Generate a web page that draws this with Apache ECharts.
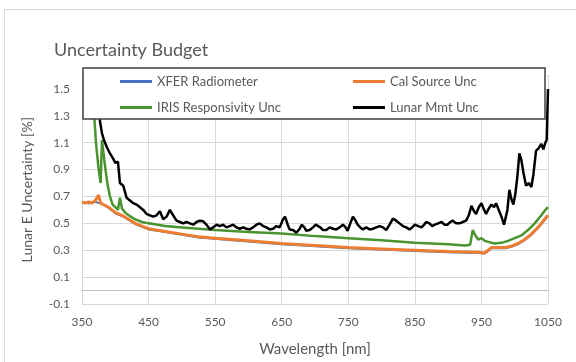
<!DOCTYPE html>
<html lang="en">
<head>
<title>Uncertainty Budget</title>
<meta charset="UTF-8" />
<script src="https://cdn.jsdelivr.net/npm/echarts@6/dist/echarts.min.js"></script>
<style>
  html, body { margin: 0; padding: 0; background: #fff; }
</style>
</head>
<body>
<div id="main" style="width: 576px;height:362px;"></div>

<script type="text/javascript">

// Cal Source Unc (orange)
var calWl  = [350,355,360,365,370,373,375,378,382,386,390,395,400,405,410,420,430,440,450,475,500,525,550,575,600,650,700,750,800,850,900,930,945,955,960,965,975,985,995,1005,1015,1025,1035,1045,1050];
var calVal = [0.66,0.65,0.66,0.65,0.67,0.66,0.71,0.65,0.64,0.63,0.62,0.60,0.58,0.57,0.56,0.53,0.50,0.48,0.46,0.44,0.42,0.40,0.39,0.38,0.37,0.35,0.335,0.32,0.31,0.30,0.29,0.287,0.285,0.28,0.30,0.32,0.32,0.32,0.33,0.35,0.38,0.42,0.47,0.53,0.56];

// XFER Radiometer (blue, nearly hidden under orange)
var xferWl  = [350,360,370,380,390,400,410,420,430,440,450,475,500,525,550,575,600,650,700,750,800,850,900,930,945,955,960,965,975,985,995,1005,1015,1025,1035,1045,1050];
var xferVal = [0.655,0.65,0.66,0.645,0.615,0.575,0.555,0.525,0.495,0.475,0.455,0.435,0.415,0.395,0.385,0.375,0.365,0.345,0.33,0.315,0.305,0.295,0.285,0.282,0.28,0.275,0.295,0.315,0.315,0.315,0.325,0.345,0.375,0.415,0.465,0.525,0.555];

// IRIS Responsivity Unc (green)
var irisWl  = [362,367,371,375,378,380,384,388,392,396,400,404,407,410,415,420,430,440,450,475,500,550,600,650,700,750,800,850,900,925,933,937,941,945,950,955,962,970,980,990,1000,1010,1020,1030,1040,1046,1050];
var irisVal = [1.75,1.4,1.1,0.9,0.80,1.12,0.95,0.80,0.70,0.64,0.62,0.60,0.69,0.61,0.58,0.56,0.53,0.51,0.50,0.48,0.47,0.45,0.435,0.425,0.405,0.39,0.375,0.355,0.345,0.335,0.34,0.45,0.41,0.38,0.39,0.37,0.36,0.35,0.355,0.37,0.39,0.41,0.45,0.50,0.56,0.60,0.62];

// Lunar Mmt Unc (black, noisy)
var lunarWl  = [372,377,380,383,387,392,397,400,404,407,412,417,422,427,432,437,442,447,452,457,462,467,472,477,482,487,492,497,502,507,512,517,522,527,532,537,542,547,552,557,562,567,572,577,582,587,592,597,602,607,612,617,622,627,632,637,642,647,652,655,659,662,667,672,677,680,684,687,692,697,701,704,708,712,717,722,727,732,737,742,746,749,753,757,761,764,768,772,777,782,787,792,797,802,807,812,817,822,827,832,837,842,846,850,855,860,864,867,872,876,880,885,890,895,899,903,907,912,917,922,927,931,935,939,942,946,950,954,957,961,965,969,972,976,980,984,986,989,992,995,998,1001,1004,1007,1010,1013,1017,1021,1025,1028,1032,1036,1040,1043,1046,1048,1050];
var lunarVal = [1.7,1.26,1.17,1.12,1.07,1.02,0.98,0.95,0.96,0.80,0.78,0.69,0.67,0.65,0.64,0.62,0.60,0.57,0.56,0.55,0.56,0.59,0.53,0.55,0.60,0.56,0.52,0.51,0.50,0.51,0.50,0.49,0.51,0.52,0.515,0.49,0.455,0.47,0.49,0.48,0.49,0.47,0.48,0.49,0.47,0.46,0.47,0.46,0.455,0.47,0.49,0.50,0.48,0.47,0.455,0.46,0.48,0.47,0.53,0.55,0.49,0.455,0.45,0.43,0.46,0.49,0.47,0.445,0.45,0.47,0.49,0.49,0.47,0.45,0.45,0.47,0.46,0.455,0.47,0.49,0.47,0.445,0.50,0.55,0.52,0.49,0.47,0.455,0.47,0.455,0.46,0.47,0.48,0.47,0.45,0.49,0.535,0.52,0.50,0.48,0.47,0.455,0.47,0.49,0.48,0.47,0.49,0.51,0.50,0.48,0.49,0.50,0.51,0.49,0.49,0.51,0.52,0.50,0.50,0.51,0.52,0.56,0.63,0.59,0.57,0.62,0.65,0.60,0.57,0.61,0.64,0.62,0.65,0.60,0.55,0.49,0.50,0.60,0.75,0.68,0.64,0.72,0.85,1.02,0.97,0.88,0.78,0.80,0.77,0.86,1.04,1.06,1.09,1.05,1.10,1.12,1.5];

var names = ['XFER Radiometer', 'Cal Source Unc', 'IRIS Responsivity Unc', 'Lunar Mmt Unc'];
var colors = ['#4472c4', '#ed7d31', '#4a9430', '#000000'];

function pairs(xs, ys) {
    var out = [];
    for (var i = 0; i < xs.length; i++) out.push([xs[i], ys[i]]);
    return out;
}

var textColor = '#595959';
var gridColor = '#d9d9d9';
var font = 'Lato';

var myChart = echarts.init(document.getElementById('main'));
var option = {
    animation: false,
    textStyle: { fontFamily: font },
    title: {
        text: 'Uncertainty Budget',
        left: 49,
        top: 36,
        textStyle: { color: textColor, fontSize: 18, fontWeight: 'normal', fontFamily: font }
    },
    // legend box: two columns, filled white so it hides the curves behind it
    legend: {
        orient: 'vertical',
        data: [names[0], names[2], names[1], names[3]],
        left: 83, top: 68, height: 60,
        padding: [7, 5, 5, 37],
        itemGap: 13,
        itemWidth: 32, itemHeight: 3, icon: 'rect',
        backgroundColor: '#fff',
        borderColor: '#404040', borderWidth: 1.5, borderRadius: 0,
        formatter: function (name) {
            var col1 = (name === names[0] || name === names[2]);
            return (col1 ? '{a|' : '{b|') + name + '}';
        },
        textStyle: {
            color: textColor, fontSize: 13, fontFamily: font,
            rich: {
                a: { width: 183, lineHeight: 16, fontSize: 13, color: textColor, fontFamily: font },
                b: { width: 150, lineHeight: 16, fontSize: 13, color: textColor, fontFamily: font }
            }
        }
    },
    graphic: [
        // chart frame
        { type: 'rect', shape: { x: 4.5, y: 9.5, width: 700, height: 500 },
          style: { fill: null, stroke: gridColor, lineWidth: 1 }, silent: true }
    ],
    grid: { left: 82, right: 28, top: 75.5, bottom: 40 },
    xAxis: {
        type: 'value',
        min: 350, max: 1050, interval: 100,
        name: 'Wavelength [nm]',
        nameLocation: 'middle', nameGap: 38,
        nameTextStyle: { color: textColor, fontSize: 15, fontFamily: font },
        axisLine: { show: true, onZero: true, lineStyle: { color: '#c8c8c8', width: 1 } },
        axisTick: { show: false },
        axisLabel: {
            color: textColor, fontSize: 12, margin: 12, fontFamily: font,
            formatter: function (v) { return String(v); }
        },
        splitLine: { show: true, lineStyle: { color: gridColor, width: 1 } }
    },
    yAxis: {
        type: 'value',
        min: -0.1, max: 1.6, interval: 0.2,
        name: 'Lunar E Uncertainty [%]',
        nameLocation: 'middle', nameGap: 48,
        nameTextStyle: { color: textColor, fontSize: 14, fontFamily: font },
        axisLine: { show: false },
        axisTick: { show: false },
        axisLabel: {
            color: textColor, fontSize: 12, margin: 12, fontFamily: font, showMaxLabel: false,
            formatter: function (v) { return (Math.round(v * 10) / 10).toFixed(1); }
        },
        splitLine: { show: true, lineStyle: { color: gridColor, width: 1 } }
    },
    series: [
        {
            name: names[0], type: 'line', showSymbol: false, data: pairs(xferWl, xferVal),
            lineStyle: { color: colors[0], width: 2 }, itemStyle: { color: colors[0] },
            // the horizontal axis crosses at zero
            markLine: {
                silent: true, symbol: ['none', 'none'], label: { show: false },
                lineStyle: { color: '#bfbfbf', type: 'solid', width: 1 },
                data: [[{ coord: [350, 0] }, { coord: [1050, 0] }]]
            }
        },
        {
            name: names[1], type: 'line', showSymbol: false, data: pairs(calWl, calVal),
            lineStyle: { color: colors[1], width: 3 }, itemStyle: { color: colors[1] }
        },
        {
            name: names[2], type: 'line', showSymbol: false, data: pairs(irisWl, irisVal),
            lineStyle: { color: colors[2], width: 2.5 }, itemStyle: { color: colors[2] }
        },
        {
            name: names[3], type: 'line', showSymbol: false, data: pairs(lunarWl, lunarVal),
            lineStyle: { color: colors[3], width: 2.5 }, itemStyle: { color: colors[3] }
        }
    ]
};
myChart.setOption(option);

</script>
</body>
</html>
